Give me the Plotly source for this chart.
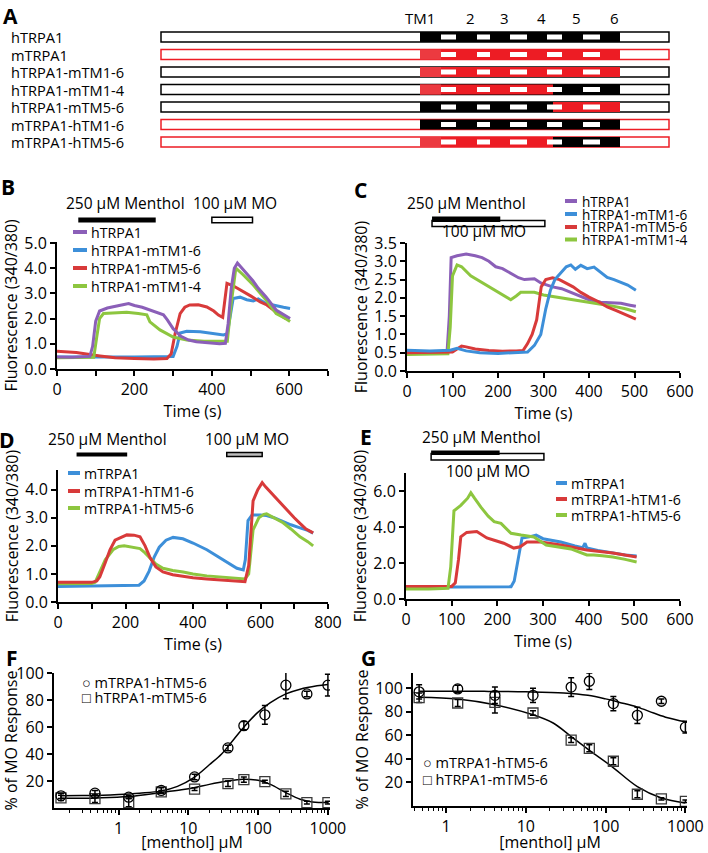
import plotly.graph_objects as go

#%% DATA

# panel A : construct schematic (schematic units along the protein)
constructs = ["hTRPA1", "mTRPA1", "hTRPA1-mTM1-6", "hTRPA1-mTM1-4",
              "hTRPA1-mTM5-6", "mTRPA1-hTM1-6", "mTRPA1-hTM5-6"]
backbone = ["h", "m", "h", "h", "h", "m", "m"]   # species of the termini
tm1_4 = ["h", "m", "m", "m", "h", "h", "m"]      # species of TM1-4
tm5_6 = ["h", "m", "m", "h", "m", "h", "h"]      # species of TM5-6
tm_labels = ["TM1", "2", "3", "4", "5", "6"]
tm_start = [259, 295, 329, 366, 401, 439]
tm_end = [280, 316, 349, 386, 422, 459]
bar_end = 508
swap_at = 392

# panel B : hTRPA1 chimeras, menthol then MO
b_names = ["hTRPA1", "hTRPA1-mTM1-6", "hTRPA1-mTM5-6", "hTRPA1-mTM1-4"]
b_menthol = [55, 255]
b_mo = [400, 505]
b_t_purple = [0, 40, 85, 92, 100, 110, 130, 150, 170, 185, 200, 220, 240, 260, 275, 285, 300, 320,
              340, 360, 380, 400, 420, 435, 442, 450, 458, 466, 480, 506, 520, 540, 566, 585, 602]
b_v_purple = [0.48, 0.47, 0.5, 0.9, 1.9, 2.3, 2.42, 2.5, 2.55, 2.6, 2.52, 2.45, 2.35, 2.25, 2.15, 1.95,
              1.6, 1.3, 1.15, 1.08, 1.05, 1.03, 1.0, 1.02, 1.8, 3.2, 4.0, 4.2, 3.95, 3.5, 3.2, 2.86, 2.34, 2.15, 2.0]
b_t_blue = [0, 100, 200, 300, 310, 318, 335, 370, 400, 430, 440, 448, 455, 473, 490, 507, 520, 540, 566, 585, 602]
b_v_blue = [0.48, 0.47, 0.48, 0.5, 0.9, 1.43, 1.5, 1.48, 1.42, 1.35, 1.4, 2.2, 2.8, 2.85, 2.75, 2.7, 2.78, 2.6, 2.5, 2.45, 2.4]
b_t_red = [0, 50, 111, 150, 200, 250, 284, 295, 305, 318, 330, 343, 365, 387, 405, 417, 428,
           432, 439, 455, 473, 500, 525, 542, 566, 590]
b_v_red = [0.7, 0.65, 0.52, 0.45, 0.42, 0.4, 0.42, 0.6, 1.4, 2.2, 2.45, 2.54, 2.55, 2.46, 2.3, 2.14, 2.05,
           2.6, 3.4, 3.3, 3.15, 2.9, 2.66, 2.54, 2.26, 2.0]
b_t_green = [0, 50, 95, 102, 110, 120, 150, 180, 210, 232, 240, 266, 300, 335, 380, 430, 440, 450, 462,
             480, 507, 540, 566, 585, 602]
b_v_green = [0.45, 0.45, 0.47, 1.2, 2.0, 2.2, 2.22, 2.25, 2.2, 2.15, 1.87, 1.55, 1.27, 1.15, 1.1, 1.08, 1.1,
             2.6, 4.0, 3.75, 3.33, 2.74, 2.2, 2.05, 1.88]

# panel C : hTRPA1 chimeras, menthol + MO together
c_menthol = [55, 205]
c_mo = [55, 303]
c_t_purple = [0, 50, 88, 93, 97, 110, 130, 150, 165, 180, 195, 210, 228, 245, 258, 270, 280, 295,
              320, 340, 360, 382, 400, 426, 450, 470, 490, 503]
c_v_purple = [0.5, 0.5, 0.52, 1.5, 3.1, 3.15, 3.2, 3.15, 3.1, 3.0, 2.85, 2.8, 2.67, 2.55, 2.5, 2.5, 2.52,
              2.4, 2.3, 2.25, 2.15, 2.02, 1.95, 1.88, 1.87, 1.85, 1.8, 1.77]
c_t_blue = [0, 50, 95, 110, 130, 160, 200, 240, 265, 280, 294, 305, 315, 325, 338, 350, 360, 370,
            382, 396, 411, 425, 440, 455, 470, 485, 503]
c_v_blue = [0.57, 0.55, 0.57, 0.62, 0.55, 0.5, 0.48, 0.5, 0.52, 0.7, 1.0, 1.7, 2.2, 2.5, 2.67, 2.85,
            2.9, 2.78, 2.89, 2.8, 2.84, 2.7, 2.56, 2.5, 2.43, 2.35, 2.21]
c_t_red = [0, 50, 100, 110, 120, 130, 150, 180, 210, 240, 255, 265, 275, 285, 295, 305, 320, 335,
           350, 365, 382, 400, 420, 440, 460, 480, 503]
c_v_red = [0.5, 0.5, 0.52, 0.6, 0.68, 0.66, 0.6, 0.56, 0.54, 0.55, 0.56, 0.75, 1.0, 1.4, 2.3, 2.5,
           2.55, 2.5, 2.4, 2.3, 2.15, 2.02, 1.9, 1.75, 1.65, 1.55, 1.42]
c_t_green = [0, 50, 90, 95, 100, 110, 120, 140, 160, 180, 200, 215, 228, 240, 250, 265, 280, 300,
             330, 360, 390, 420, 450, 480, 503]
c_v_green = [0.45, 0.45, 0.47, 1.2, 2.6, 2.9, 2.85, 2.6, 2.45, 2.3, 2.15, 2.05, 1.95, 2.05, 2.15, 2.15,
             2.15, 2.08, 2.02, 1.98, 1.92, 1.85, 1.78, 1.7, 1.62]

# panel D : mTRPA1 chimeras, menthol then MO
d_names = ["mTRPA1", "mTRPA1-hTM1-6", "mTRPA1-hTM5-6"]
d_menthol = [55, 205]
d_mo = [500, 605]
d_t_blue = [0, 100, 200, 240, 255, 270, 285, 300, 320, 341, 370, 400, 441, 490, 530, 549, 555, 563,
            575, 600, 618, 640, 667, 690, 717, 740, 756]
d_v_blue = [0.55, 0.56, 0.57, 0.6, 0.75, 1.1, 1.6, 1.95, 2.2, 2.3, 2.25, 2.1, 1.86, 1.5, 1.2, 1.14, 1.5,
            2.9, 3.1, 3.1, 3.08, 3.0, 2.86, 2.75, 2.64, 2.55, 2.45]
d_t_red = [0, 100, 115, 124, 140, 154, 169, 185, 204, 225, 243, 258, 273, 290, 311, 340, 371, 400, 441,
           480, 519, 554, 565, 578, 592, 605, 615, 630, 645, 667, 687, 700, 717, 735, 756]
d_v_red = [0.7, 0.7, 0.75, 0.9, 1.4, 1.86, 2.2, 2.3, 2.39, 2.38, 2.32, 2.0, 1.57, 1.25, 1.07, 0.97, 0.9,
           0.86, 0.82, 0.78, 0.75, 0.72, 1.3, 3.6, 4.0, 4.25, 4.1, 3.9, 3.7, 3.4, 3.17, 3.0, 2.8, 2.6, 2.46]
d_t_green = [0, 100, 110, 124, 140, 163, 180, 196, 220, 243, 258, 273, 290, 311, 340, 371, 400, 441,
             480, 519, 554, 565, 578, 595, 610, 618, 640, 667, 690, 717, 740, 756]
d_v_green = [0.65, 0.66, 0.7, 1.1, 1.5, 1.86, 1.98, 2.0, 1.95, 1.9, 1.75, 1.57, 1.35, 1.2, 1.12, 1.07, 1.0,
             0.93, 0.9, 0.86, 0.82, 1.0, 2.57, 3.0, 3.12, 3.14, 3.0, 2.82, 2.6, 2.32, 2.15, 2.0]

# panel E : mTRPA1 chimeras, menthol + MO together
e_menthol = [55, 205]
e_mo = [55, 302]
e_t_blue = [0, 100, 200, 230, 237, 243, 254, 270, 285, 300, 339, 370, 387, 392, 396, 420, 453, 480, 505]
e_v_blue = [0.65, 0.65, 0.65, 0.68, 1.0, 1.8, 3.39, 3.45, 3.55, 3.35, 3.17, 2.95, 2.85, 3.1, 2.83, 2.7,
            2.55, 2.45, 2.39]
e_t_red = [0, 50, 100, 108, 115, 120, 133, 155, 177, 195, 214, 236, 250, 265, 295, 339, 396, 453, 505]
e_v_red = [0.7, 0.7, 0.7, 0.9, 2.2, 3.45, 3.7, 3.75, 3.39, 3.25, 3.1, 2.83, 2.9, 3.17, 3.17, 3.0, 2.72,
           2.55, 2.33]
e_t_green = [0, 50, 92, 98, 105, 120, 135, 142, 150, 164, 180, 193, 208, 220, 230, 252, 280, 307, 335,
             361, 396, 411, 430, 453, 480, 505]
e_v_green = [0.55, 0.55, 0.6, 1.8, 4.9, 5.2, 5.6, 5.9, 5.6, 5.1, 4.6, 4.3, 4.2, 3.9, 3.65, 3.55, 3.45,
             3.0, 2.9, 2.78, 2.45, 2.45, 2.4, 2.33, 2.2, 2.06]

# panel F / G : dose response (% of MO response)
fg_names = ["mTRPA1-hTM5-6", "hTRPA1-mTM5-6"]
f_conc = [0.15, 0.46, 1.4, 4.1, 12.3, 37, 62.5, 125, 250, 500, 1000]
f_circ = [9, 11, 8, 13, 23, 44.5, 61, 69, 91, 84.5, 91]
f_circ_err = [2, 2, 1, 2, 2, 2, 3, 7, 10, 2, 8]
f_sq = [7.5, 7, 4, 12, 14, 18, 21, 19.5, 10.5, 4, 4]
f_sq_err = [2, 3, 3, 1, 1, 2, 2, 1, 2, 1, 1]
f_fit_circ_x = [0.15, 0.3, 0.6, 1, 2, 4, 7, 12, 20, 30, 45, 65, 100, 150, 250, 400, 700, 1000]
f_fit_circ_y = [9, 9.2, 9.5, 10, 11, 12.5, 16, 22.5, 32, 40, 51, 61, 71, 78, 84.5, 88, 90.5, 91.5]
f_fit_sq_x = [0.15, 0.5, 1.4, 4.1, 8, 12, 20, 35, 60, 100, 150, 250, 400, 600, 1000]
f_fit_sq_y = [7.2, 7.5, 8.5, 11.5, 13.5, 15, 17.5, 19.8, 21.3, 20.5, 17.5, 11.4, 6.5, 4.5, 4]

g_conc = [0.46, 1.4, 4.1, 12.3, 37, 62.5, 125, 250, 500, 1000]
g_circ = [97, 99.5, 94, 94, 101, 106, 87, 77, 89, 67]
g_circ_err = [6, 3, 7, 6, 8, 7, 6, 7, 2, 5]
g_sq = [92, 87.5, 88, 79, 56, 49, 38, 10, 6, 4]
g_sq_err = [4, 3, 9, 2, 2, 3, 3, 3, 1, 1]
g_fit_circ_x = [0.46, 1, 3, 10, 30, 60, 100, 150, 250, 400, 600, 1000]
g_fit_circ_y = [97.5, 97.5, 97.4, 97, 96, 94, 91, 88, 84, 79, 75, 71.5]
g_fit_sq_x = [0.46, 1.4, 4.1, 12.3, 22, 37, 62, 120, 250, 500, 1000]
g_fit_sq_y = [92.5, 91, 86, 77.5, 70.5, 59, 47.5, 33.5, 16.5, 6.8, 2.5]

#%% STYLE

W, H = 708, 853
FONT = "Open Sans"
TICK = 16
PURPLE, BLUE, RED, GREEN = "#8b5fb8", "#3d8fd9", "#d83a3a", "#8dc63f"
HUMAN, MOUSE, MOUSE_TM1 = "#000000", "#ed1c24", "#ec3a40"


def fx(px):
    return px / W  # pixel column -> paper x


def fy(py):
    return 1 - py / H  # pixel row -> paper y


fig = go.Figure()
shapes = []
notes = []


def note(text, x, y, size=15.5, anchor="center", **kw):
    notes.append(dict(text=text, x=fx(x), y=fy(y), xref="paper", yref="paper", showarrow=False,
                      xanchor=anchor, yanchor="middle", font=dict(family=FONT, size=size, color="black"), **kw))


def axis(dom, rng, **kw):
    d = dict(domain=dom, range=rng, showline=True, linecolor="black", linewidth=2, ticks="outside",
             ticklen=5, tickwidth=1.5, tickcolor="black", showgrid=False, zeroline=False,
             automargin=False, tickfont=dict(family=FONT, size=TICK, color="black"),
             title_font=dict(family=FONT, size=TICK, color="black"))
    d.update(kw)
    return d


#%% PANEL A

layout_axes = {}
layout_axes["xaxis"] = dict(domain=[fx(157), fx(673)], range=[-4, bar_end + 4], visible=False, anchor="y")
layout_axes["yaxis"] = dict(domain=[fy(150.75), fy(28.25)], range=[6.5, -0.5], visible=False, anchor="x")

half, inner = 0.286, 0.143
col = {"h": HUMAN, "m": MOUSE}
for i, name in enumerate(constructs):
    # whole protein outline
    shapes.append(dict(type="rect", xref="x", yref="y", x0=0, x1=bar_end, y0=i - half, y1=i + half,
                       line=dict(color=col[backbone[i]], width=1.5), fillcolor="white"))
    # transmembrane core, split where TM1-4 meets TM5-6
    shapes.append(dict(type="rect", xref="x", yref="y", x0=tm_start[0], x1=swap_at, y0=i - half, y1=i + half,
                       line_width=0, fillcolor=col[tm1_4[i]]))
    shapes.append(dict(type="rect", xref="x", yref="y", x0=swap_at, x1=tm_end[-1], y0=i - half, y1=i + half,
                       line_width=0, fillcolor=col[tm5_6[i]]))
    if tm1_4[i] == "m":
        shapes.append(dict(type="rect", xref="x", yref="y", x0=tm_start[0], x1=tm_end[0], y0=i - half,
                           y1=i + half, line_width=0, fillcolor=MOUSE_TM1))
    for k in range(len(tm_start) - 1):
        shapes.append(dict(type="rect", xref="x", yref="y", x0=tm_end[k], x1=tm_start[k + 1],
                           y0=i - inner, y1=i + inner, line_width=0, fillcolor="white"))
    notes.append(dict(text=name, x=fx(9), y=i, xref="paper", yref="y", showarrow=False, xanchor="left",
                      yanchor="middle", font=dict(family=FONT, size=14.6, color="black")))

for k, lab in enumerate(tm_labels):
    mid = (tm_start[k] + tm_end[k]) / 2 + 4
    notes.append(dict(text=lab, x=mid + (2 if k == 0 else 0), y=fy(18), xref="x", yref="paper",
                      showarrow=False, xanchor="right" if k == 0 else "center", yanchor="middle",
                      font=dict(family=FONT, size=15, color="black")))

#%% PANELS B-E (calcium traces)


def traces(ax, series):
    for t, v, c in series:
        fig.add_trace(go.Scatter(x=t, y=v, mode="lines", line=dict(color=c, width=3),
                                 xaxis="x" + ax, yaxis="y" + ax, showlegend=False, hoverinfo="skip"))


def drug_bar(ax, span, y0, y1, fill, outline=0):
    shapes.append(dict(type="rect", xref="x" + ax, yref="paper", x0=span[0], x1=span[1], y0=fy(y1), y1=fy(y0),
                       fillcolor=fill, line=dict(color="black", width=outline)))


def legend_lines(names, colors, rows, dash, text_x, size=14.2):
    for n, c, r in zip(names, colors, rows):
        shapes.append(dict(type="line", xref="paper", yref="paper", x0=fx(dash[0]), x1=fx(dash[1]),
                           y0=fy(r), y1=fy(r), line=dict(color=c, width=4)))
        note(n, text_x, r, size=size, anchor="left")


def labelled(vals, every):
    return [str(v) if v % every == 0 else "" for v in vals]


xtitle = dict(text="Time (s)", standoff=0)
ytitle = dict(text="Fluorescence (340/380)", standoff=3)

# B
traces("2", [(b_t_blue, b_v_blue, BLUE), (b_t_red, b_v_red, RED),
             (b_t_green, b_v_green, GREEN), (b_t_purple, b_v_purple, PURPLE)])
xb = list(range(0, 701, 100))
layout_axes["xaxis2"] = axis([fx(57), fx(328)], [0, 700], anchor="y2", tickvals=xb, ticktext=labelled(xb, 200),
                             title=xtitle)
layout_axes["yaxis2"] = axis([fy(369), fy(241.7)], [0, 5.05], anchor="x2", tickvals=[0, 1, 2, 3, 4, 5],
                             tickformat=".1f", title=ytitle)
drug_bar("2", b_menthol, 217.5, 222.5, "black")
drug_bar("2", b_mo, 217.3, 222.7, "white", 1.5)
note("250 µM Menthol", 125, 203)
note("100 µM MO", 235, 203)
legend_lines(b_names, [PURPLE, BLUE, RED, GREEN], [232, 250, 268, 286], (73, 87), 89)

# C
traces("3", [(c_t_purple, c_v_purple, PURPLE), (c_t_green, c_v_green, GREEN),
             (c_t_red, c_v_red, RED), (c_t_blue, c_v_blue, BLUE)])
layout_axes["xaxis3"] = axis([fx(407), fx(680)], [0, 600], anchor="y3", dtick=100, title=xtitle)
layout_axes["yaxis3"] = axis([fy(371), fy(243)], [0, 3.5], anchor="x3", dtick=0.5, tickformat=".1f",
                             title=ytitle)
drug_bar("3", c_mo, 220.5, 226.5, "white", 1.5)
drug_bar("3", c_menthol, 216.5, 222, "black")
note("250 µM Menthol", 467, 203)
note("100 µM MO", 484, 231)
legend_lines(b_names, [PURPLE, BLUE, RED, GREEN], [201, 214, 227, 239.5], (565, 577), 580, size=13.6)

# D
traces("4", [(d_t_blue, d_v_blue, BLUE), (d_t_green, d_v_green, GREEN), (d_t_red, d_v_red, RED)])
xd = list(range(0, 801, 100))
layout_axes["xaxis4"] = axis([fx(58), fx(328)], [0, 800], anchor="y4", tickvals=xd, ticktext=labelled(xd, 200),
                             title=xtitle)
layout_axes["yaxis4"] = axis([fy(602), fy(470)], [0, 4.7], anchor="x4", tickvals=[0, 1, 2, 3, 4],
                             tickformat=".1f", title=ytitle)
drug_bar("4", d_menthol, 452.5, 456.5, "black")
drug_bar("4", d_mo, 452.5, 456.5, "#bdbdbd", 1.5)
note("250 µM Menthol", 107, 439)
note("100 µM MO", 247, 439)
legend_lines(d_names, [BLUE, RED, GREEN], [473, 491, 508], (68, 80), 82)

# E
traces("5", [(e_t_blue, e_v_blue, BLUE), (e_t_red, e_v_red, RED), (e_t_green, e_v_green, GREEN)])
layout_axes["xaxis5"] = axis([fx(406), fx(680)], [0, 600], anchor="y5", dtick=100, title=xtitle)
layout_axes["yaxis5"] = axis([fy(599), fy(473)], [0, 7], anchor="x5", tickvals=[0, 2, 4, 6],
                             tickformat=".1f", title=ytitle)
drug_bar("5", e_mo, 453.5, 460, "white", 1.5)
drug_bar("5", e_menthol, 450.5, 455, "black")
note("250 µM Menthol", 481, 437)
note("100 µM MO", 488, 471)
legend_lines(d_names, [BLUE, RED, GREEN], [483, 499, 515], (556, 567), 569)

#%% PANELS F-G (dose response)


def dose(ax, conc, circ, circ_err, sq, sq_err, fits):
    for fxs, fys in fits:
        fig.add_trace(go.Scatter(x=fxs, y=fys, mode="lines", line=dict(color="black", width=1.5, shape="spline"),
                                 xaxis="x" + ax, yaxis="y" + ax, showlegend=False, hoverinfo="skip"))
    for y, e, sym, c in [(sq, sq_err, "square-open", "#3a3a3a"), (circ, circ_err, "circle-open", "black")]:
        fig.add_trace(go.Scatter(x=conc, y=y, mode="markers",
                                 marker=dict(symbol=sym, size=10, color=c, line=dict(width=1.3)),
                                 error_y=dict(type="data", array=e, visible=True, thickness=1.5, width=3,
                                              color="black"),
                                 xaxis="x" + ax, yaxis="y" + ax, showlegend=False, hoverinfo="skip"))


minor_log = [m * 10 ** p for p in range(-1, 3) for m in range(2, 10)]
log_kw = dict(type="log", tickvals=[1, 10, 100, 1000], ticktext=["1", "10", "100", "1000"],
              minor=dict(ticks="outside", ticklen=3, tickwidth=1, tickcolor="black", tickvals=minor_log),
              title=dict(text="[menthol] µM", standoff=1))

dose("6", f_conc, f_circ, f_circ_err, f_sq, f_sq_err,
     [(f_fit_circ_x, f_fit_circ_y), (f_fit_sq_x, f_fit_sq_y)])
layout_axes["xaxis6"] = axis([fx(54), fx(330)], [-0.924, 3.03], anchor="y6", **log_kw)
layout_axes["yaxis6"] = axis([fy(808), fy(673)], [0, 100], anchor="x6", tickvals=[20, 40, 60, 80, 100],
                             title=dict(text="% of MO Response", standoff=3))
note("○ " + fg_names[0], 80, 682, size=14.5, anchor="left")
note("□ " + fg_names[1], 80, 697, size=14.5, anchor="left")

dose("7", g_conc, g_circ, g_circ_err, g_sq, g_sq_err,
     [(g_fit_circ_x, g_fit_circ_y), (g_fit_sq_x, g_fit_sq_y)])
layout_axes["xaxis7"] = axis([fx(413), fx(687)], [-0.414, 3.02], anchor="y7", **log_kw)
layout_axes["yaxis7"] = axis([fy(806), fy(673)], [0, 113], anchor="x7", tickvals=[20, 40, 60, 80, 100],
                             title=dict(text="% of MO Response", standoff=3))
note("○ " + fg_names[0], 421, 762, size=14.5, anchor="left")
note("□ " + fg_names[1], 421, 779, size=14.5, anchor="left")

#%% PANEL LETTERS

for letter, x, y in [("A", 10, 16), ("B", 8, 187), ("C", 360, 190), ("D", 7, 440),
                     ("E", 366, 437), ("F", 12, 658), ("G", 368, 658)]:
    notes.append(dict(text="<b>%s</b>" % letter, x=fx(x), y=fy(y), xref="paper", yref="paper", showarrow=False,
                      xanchor="center", yanchor="middle", font=dict(family=FONT, size=21, color="black")))

for s in shapes:
    s["opacity"] = 1  # the template fades shapes otherwise

fig.update_layout(template="simple_white", width=W, height=H, autosize=False,
                  margin=dict(l=0, r=0, t=0, b=0), plot_bgcolor="white", paper_bgcolor="white",
                  font=dict(family=FONT, color="black"), shapes=shapes, annotations=notes,
                  **layout_axes)

# the page body keeps an 8px browser margin unless it is reset
fig.write_html("out.html", config={"displayModeBar": False},
               post_script="document.body.style.margin='0px';")
